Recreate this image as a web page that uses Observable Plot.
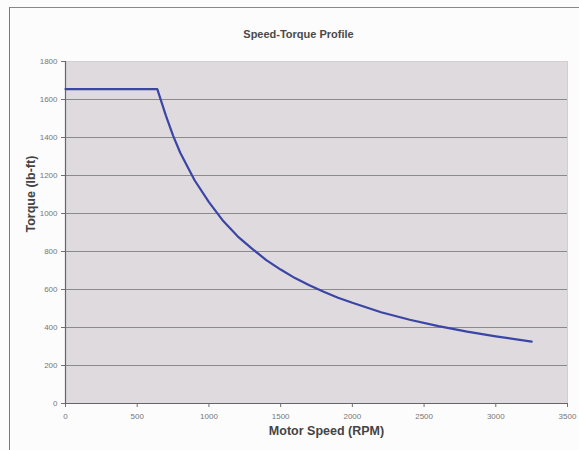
<!DOCTYPE html>
<html>
<head>
<meta charset="utf-8">
<script src="https://cdn.jsdelivr.net/npm/d3@7"></script>
<script src="https://cdn.jsdelivr.net/npm/@observablehq/plot@0.6"></script>
<style>
  html, body { margin: 0; padding: 0; background: #fcfcfc; }
  #wrap { position: relative; width: 579px; height: 450px; overflow: hidden; }
  #frame { position: absolute; left: 9px; top: 7px; width: 600px; height: 500px;
           border-left: 1.5px solid #777; border-top: 1.5px solid #888; pointer-events: none; }
</style>
</head>
<body>
<div id="wrap"><div id="frame"></div></div>
<script>
const title = "Speed-Torque Profile";
const xLabel = "Motor Speed (RPM)";
const yLabel = "Torque (lb-ft)";
const speedRPM = [0, 640, 700, 750, 800, 900, 1000, 1100, 1200, 1300, 1400, 1500, 1600, 1700, 1800, 1900, 2000, 2200, 2400, 2600, 2800, 3000, 3250];
const torqueLbFt = [1655, 1655, 1515, 1410, 1320, 1175, 1060, 960, 880, 815, 755, 705, 660, 622, 588, 557, 530, 480, 441, 407, 378, 353, 326];
const xTicks = [0, 500, 1000, 1500, 2000, 2500, 3000, 3500];
const yTicks = [0, 200, 400, 600, 800, 1000, 1200, 1400, 1600, 1800];

const data = speedRPM.map((s, i) => ({speed: s, torque: torqueLbFt[i]}));

const chart = Plot.plot({
  width: 579,
  height: 450,
  marginLeft: 65,
  marginRight: 12,
  marginTop: 61,
  marginBottom: 47,
  style: {background: "transparent", fontFamily: "Liberation Sans, Arial, sans-serif"},
  x: {domain: [0, 3500], ticks: xTicks, tickFormat: d => String(d)},
  y: {domain: [0, 1800], ticks: yTicks, tickFormat: d => String(d)},
  marks: [
    Plot.frame({fill: "#dedadd", stroke: "#d2cdd1"}),
    Plot.ruleY(yTicks.filter(d => d > 0 && d < 1800), {stroke: "#8a8a8a", strokeWidth: 1.2}),
    Plot.axisX({ticks: xTicks, tickSize: 4, tickPadding: 6, fontSize: 8, color: "#777", stroke: "#707070",
                tickFormat: d => String(d), label: null}),
    Plot.axisY({ticks: yTicks, tickSize: 4, tickPadding: 4, fontSize: 8, color: "#777", stroke: "#707070",
                tickFormat: d => String(d), label: null}),
    Plot.ruleX([0], {stroke: "#666", strokeWidth: 1.2}),
    Plot.ruleY([0], {stroke: "#666", strokeWidth: 1.2}),
    Plot.line(data, {x: "speed", y: "torque", stroke: "#3b45a6", strokeWidth: 2.2}),
    Plot.text([title], {frameAnchor: "top", dy: -31, dx: -18, fontSize: 11, fontWeight: "bold", fill: "#4a4a4a"}),
    Plot.text([xLabel], {frameAnchor: "bottom", dy: 31, dx: 10, fontSize: 12.5, fontWeight: "bold", fill: "#444"}),
    Plot.text([yLabel], {frameAnchor: "left", dx: -35, rotate: -90, fontSize: 12.5, fontWeight: "bold", fill: "#444"})
  ]
});
document.getElementById("wrap").prepend(chart);
chart.style.position = "absolute";
chart.style.left = "0";
chart.style.top = "0";
</script>
</body>
</html>
